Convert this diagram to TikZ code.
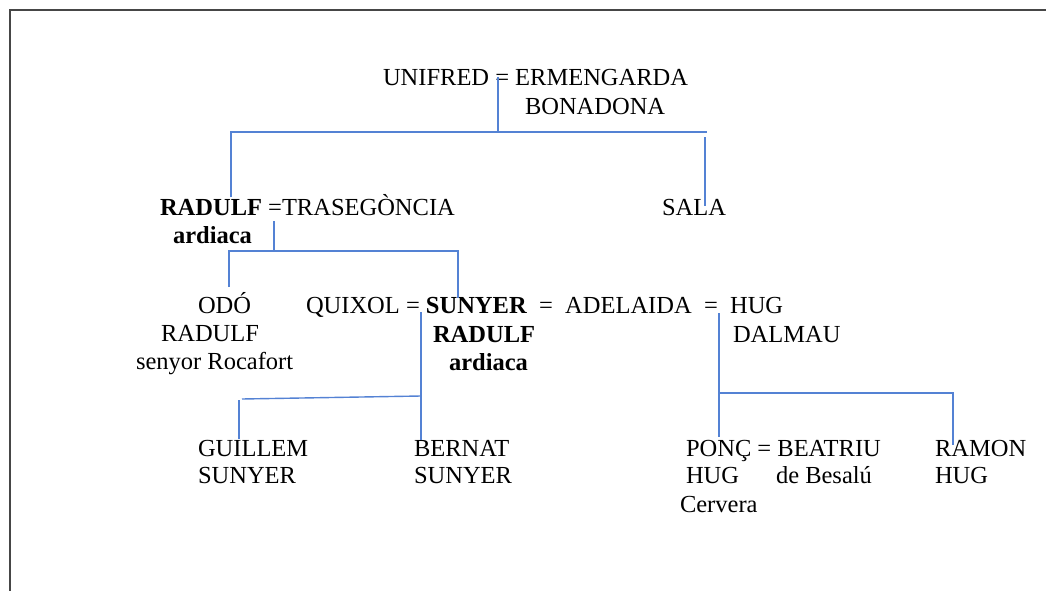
\documentclass[tikz,border=0pt]{standalone}
\usepackage{fontspec}
\setmainfont{Liberation Serif}
\definecolor{linkblue}{RGB}{84,130,212}
\definecolor{framegray}{RGB}{70,70,70}
\begin{document}
\begin{tikzpicture}[x=1pt,y=-1pt,
  person/.style={anchor=base west,inner sep=0pt,outer sep=0pt,font=\fontsize{24.5}{28}\selectfont},
  link/.style={draw=linkblue,line width=1.4pt},
  frame/.style={draw=framegray,line width=2pt}]
\useasboundingbox (0,0) rectangle (1046,591);
% outer frame (top and left edges only)
\draw[frame] (9.5,591) -- (9.5,10.5) -- (1046,10.5);

% generation 1
\node[person] (unifred) at (383,86) {UNIFRED = ERMENGARDA};
\node[person] (bonadona) at (525,115) {BONADONA};

% generation 2
\node[person] (radulf) at (160,215) {\textbf{RADULF} =TRASEGÒNCIA};
\node[person] (radulfB) at (173,243) {\textbf{ardiaca}};
\node[person] (sala) at (662,215) {SALA};

% generation 3
\node[person] (odo) at (198,313) {ODÓ};
\node[person] (odoB) at (161,341) {RADULF};
\node[person] (odoC) at (136,369) {senyor Rocafort};
\node[person] (quixol) at (306,313) {QUIXOL = \textbf{SUNYER}\ \ =\ \ ADELAIDA\ \ =\ \ HUG};
\node[person] (sunyerB) at (433,342) {\textbf{RADULF}};
\node[person] (sunyerC) at (449,370) {\textbf{ardiaca}};
\node[person] (hugB) at (733,342) {DALMAU};

% generation 4
\node[person] (guillem) at (198,456) {GUILLEM};
\node[person] (guillemB) at (198,483) {SUNYER};
\node[person] (bernat) at (414,456) {BERNAT};
\node[person] (bernatB) at (414,483) {SUNYER};
\node[person] (ponc) at (686,456) {PONÇ = BEATRIU};
\node[person] (poncB) at (686,483) {HUG};
\node[person] (beatriuB) at (776,483) {de Besalú};
\node[person] (poncC) at (680,512) {Cervera};
\node[person] (ramon) at (935,456) {RAMON};
\node[person] (ramonB) at (935,483) {HUG};

% junction points of the family lines
\coordinate (m1) at (498,77);
\coordinate (j1) at (498,133);
\coordinate (b1l) at (231,132);
\coordinate (b1r) at (707,132);
\coordinate (d1l) at (231,197);
\coordinate (t1r) at (705,137);
\coordinate (d1r) at (705,206);

\coordinate (m2) at (274,221);
\coordinate (j2) at (274,251);
\coordinate (b2l) at (229,251);
\coordinate (b2r) at (458,251);
\coordinate (d2l) at (229,287);
\coordinate (d2r) at (458,298);

\coordinate (m3) at (421,312);
\coordinate (d3r) at (421,440);
\coordinate (b3r) at (421,396);
\coordinate (b3l) at (242,399);
\coordinate (t3l) at (239,400);
\coordinate (d3l) at (239,439);

\coordinate (m4) at (719,313);
\coordinate (d4l) at (719,437);
\coordinate (b4l) at (719,393);
\coordinate (b4r) at (953,393);
\coordinate (d4r) at (953,445);

% Unifred = Ermengarda
\draw[link] (m1) -- (j1);
\draw[link] (d1l) -- (b1l) -- (b1r);
\draw[link] (t1r) -- (d1r);
% Radulf = Trasegòncia
\draw[link] (m2) -- (j2);
\draw[link] (d2l) -- (b2l) -- (b2r) -- (d2r);
% Quixol = Sunyer
\draw[link] (m3) -- (d3r);
\draw[link] (b3r) -- (b3l);
\draw[link] (t3l) -- (d3l);
% Adelaida = Hug
\draw[link] (m4) -- (d4l);
\draw[link] (b4l) -- (b4r) -- (d4r);
\end{tikzpicture}
\end{document}
